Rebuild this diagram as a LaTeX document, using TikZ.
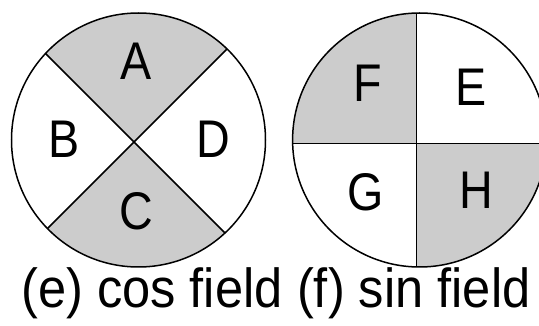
\documentclass[tikz,border=0pt]{standalone}
\usepackage{fontspec}
\setmainfont{Liberation Sans}[FakeStretch=0.88]
\newfontfamily\capfont{Liberation Sans}[FakeStretch=0.92]
\definecolor{quadgray}{HTML}{CCCCCC}
\begin{document}
\begin{tikzpicture}[
    x=1pt, y=-1pt,
    rim/.style={draw, line width=1.5pt},
    split/.style={line width=1.5pt},
    shaded/.style={fill=quadgray},
    letter/.style={inner sep=0pt, font=\fontsize{53}{60}\selectfont},
    caption/.style={inner sep=0pt, anchor=base west, font=\capfont\fontsize{55}{62}\selectfont}
]
    \useasboundingbox (0,0) rectangle (539,326);
    \coordinate (cosc) at (138.5,140);
    \coordinate (cosx) at (134,142);
    \coordinate (sinc) at (419.6,140);
    \coordinate (sinx) at (416.7,143.5);

    % cos field
    \begin{scope}
        \clip (cosc) circle (127pt);
        \fill[shaded] (cosx) -- ++(-200,-200) -- ++(400,0) -- cycle;
        \fill[shaded] (cosx) -- ++(-200,200) -- ++(400,0) -- cycle;
        \draw[split] (cosx) ++(-200,-200) -- ++(400,400);
        \draw[split] (cosx) ++(-200,200) -- ++(400,-400);
    \end{scope}
    \draw[rim] (cosc) circle (127pt);

    % sin field
    \begin{scope}
        \clip (sinc) circle (127pt);
        \fill[shaded] (sinx) rectangle ++(-200,-200);
        \fill[shaded] (sinx) rectangle ++(200,200);
        \draw[split] (sinx) ++(-200,0) -- ++(400,0);
        \draw[split] (sinx) ++(0,-200) -- ++(0,400);
    \end{scope}
    \draw[rim] (sinc) circle (127pt);

    \node[letter] (a) at (135.8,60.8) {A};
    \node[letter] (b) at (64,139) {B};
    \node[letter] (c) at (136.7,211) {C};
    \node[letter] (d) at (213,139) {D};
    \node[letter] (e) at (471,87) {E};
    \node[letter] (f) at (367.5,83.3) {F};
    \node[letter] (g) at (365.8,192.5) {G};
    \node[letter] (h) at (476,190) {H};

    \node[caption] (coscap) at (21,308) {(e) cos field};
    \node[caption] (sincap) at ([xshift=14pt]coscap.base east) {(f) sin field};
\end{tikzpicture}
\end{document}
